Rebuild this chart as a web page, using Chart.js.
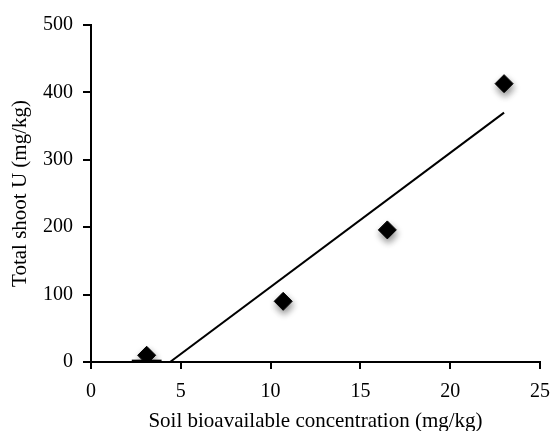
<!DOCTYPE html>
<html><head><meta charset="utf-8">
<script src="https://cdn.jsdelivr.net/npm/chart.js@4/dist/chart.umd.min.js"></script>
<style>html,body{margin:0;padding:0;background:#fff}#wrap{width:550px;height:431px}</style>
</head><body><div id="wrap"><canvas id="c" width="550" height="431"></canvas></div>
<script>
const soilConc = [3.1, 10.7, 16.5, 23.0];
const shootU = [10, 90, 196, 413];
const soilErr = [0.83, 0, 0, 0];
const trendX = [4.4, 23.0];
const trendY = [0, 370];
const xTicks = [0, 5, 10, 15, 20, 25];
const yTicks = [0, 100, 200, 300, 400, 500];

const errSets = soilConc.map((x, i) => soilErr[i] > 0 ? {
  type: 'line', data: [{ x: x - soilErr[i], y: shootU[i] * 0.2 }, { x: x + soilErr[i], y: shootU[i] * 0.2 }],
  borderColor: '#000', borderWidth: 2, pointRadius: 0, fill: false
} : null).filter(Boolean);

const shadowPlugin = {
  id: 'shadow',
  beforeDatasetDraw(chart, args) {
    if (args.index === 1) {
      const ctx = chart.ctx; ctx.save();
      ctx.shadowColor = 'rgba(0,0,0,0.45)'; ctx.shadowBlur = 7; ctx.shadowOffsetX = 1; ctx.shadowOffsetY = 4;
    }
  },
  afterDatasetDraw(chart, args) { if (args.index === 1) chart.ctx.restore(); }
};
const ff = '"Liberation Serif","Times New Roman",serif';
new Chart(document.getElementById('c'), {
  type: 'scatter',
  data: { datasets: [
    { type: 'line', data: trendX.map((x, i) => ({ x, y: trendY[i] })), borderColor: '#000', borderWidth: 2, pointRadius: 0, fill: false, tension: 0 },
    { data: soilConc.map((x, i) => ({ x, y: shootU[i] })), pointStyle: 'rectRot', pointRadius: 9, backgroundColor: '#000', borderColor: '#000' },
    ...errSets
  ]},
  options: {
    responsive: false, animation: false, devicePixelRatio: 1,
    layout: { padding: { top: 25, right: 10, left: 0, bottom: 0 } },
    plugins: { legend: { display: false }, tooltip: { enabled: false } },
    scales: {
      x: { type: 'linear', min: 0, max: 25,
        afterBuildTicks: s => { s.ticks = xTicks.map(v => ({ value: v })); },
        afterFit: s => { s.height = 69; s.paddingRight = 0; s.paddingLeft = 0; },
        grid: { drawOnChartArea: false, drawTicks: true, tickLength: 7, color: '#000', lineWidth: 2 },
        border: { color: '#000', width: 2 },
        ticks: { color: '#000', font: { family: ff, size: 20 }, padding: 11, maxRotation: 0 },
        title: { display: true, text: 'Soil bioavailable concentration (mg/kg)', color: '#000', font: { family: ff, size: 21 }, padding: { top: 4, bottom: -3 } } },
      y: { type: 'linear', min: 0, max: 500,
        afterBuildTicks: s => { s.ticks = yTicks.map(v => ({ value: v })); },
        afterFit: s => { s.width = 91; },
        grid: { drawOnChartArea: false, drawTicks: true, tickLength: 8, color: '#000', lineWidth: 2 },
        border: { color: '#000', width: 2 },
        ticks: { color: '#000', font: { family: ff, size: 20 }, padding: 10 },
        title: { display: true, text: 'Total shoot U (mg/kg)', color: '#000', font: { family: ff, size: 21 }, padding: { top: 8, bottom: 0 } } }
    }
  },
  plugins: [shadowPlugin]
});
</script></body></html>
